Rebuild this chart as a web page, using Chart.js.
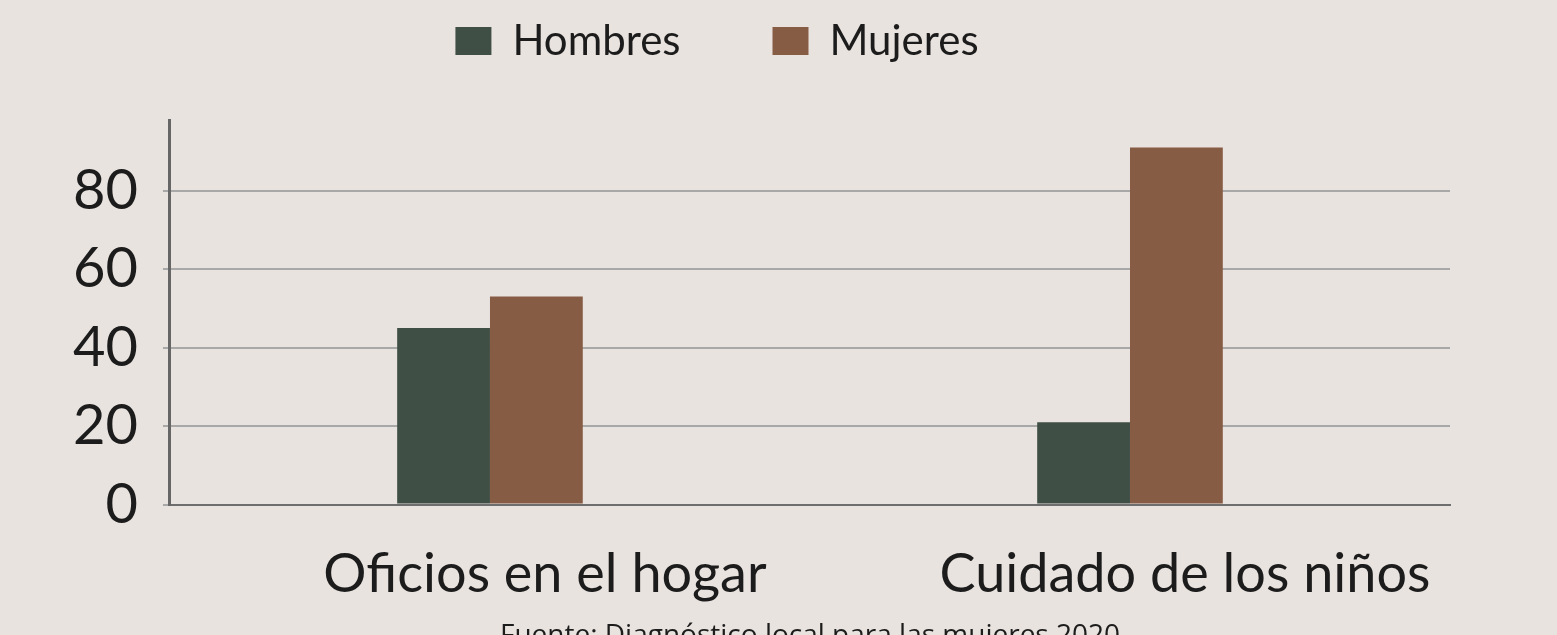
<!DOCTYPE html>
<html lang="es">
<head>
<meta charset="utf-8">
<script src="https://cdn.jsdelivr.net/npm/chart.js@4/dist/chart.umd.min.js"></script>
<style>
  html, body { margin: 0; padding: 0; overflow: hidden; background: #e9e3df; }
</style>
</head>
<body>
<canvas id="grafico" width="1557" height="653"></canvas>
<script>
// Datos
const categorias = ['Oficios en el hogar', 'Cuidado de los niños'];
const hombres = [45, 21];
const mujeres = [53, 91];
const ticksY = [0, 20, 40, 60, 80];
const fuente = 'Fuente: Diagnóstico local para las mujeres 2020';

// Desplaza la leyenda arriba y a la izquierda, como en el original
const moverLeyenda = {
  id: 'moverLeyenda',
  afterLayout(chart) {
    const lg = chart.legend;
    if (lg) {
      lg.left -= 32; lg.right -= 32;
      lg.top -= 48; lg.bottom -= 48;
    }
  }
};

const config = {
  type: 'bar',
  data: {
    labels: categorias,
    datasets: [
      { label: 'Hombres', data: hombres, backgroundColor: '#404f45' },
      { label: 'Mujeres', data: mujeres, backgroundColor: '#875c44' }
    ]
  },
  options: {
    responsive: false,
    animation: false,
    layout: { padding: { left: 48, right: 107, top: -24, bottom: 0 } },
    datasets: { bar: { categoryPercentage: 0.29, barPercentage: 1 } },
    scales: {
      x: {
        grid: { display: false },
        border: { color: '#6e6e6e', width: 2 },
        ticks: {
          color: '#1c1c1c',
          font: { family: 'Lato', size: 54 },
          padding: 30,
          labelOffset: 55,
          maxRotation: 0
        }
      },
      y: {
        min: 0,
        max: 98,
        border: { color: '#666', width: 3 },
        grid: { color: '#a8a8a8', lineWidth: 2, tickLength: 7 },
        ticks: {
          stepSize: 20,
          color: '#1c1c1c',
          font: { family: 'Lato', size: 56 },
          padding: 25,
          callback: (v) => ticksY.includes(v) ? v : null
        }
      }
    },
    plugins: {
      legend: {
        position: 'top',
        labels: {
          color: '#1c1c1c',
          font: { family: 'Lato', size: 42 },
          boxWidth: 36,
          boxHeight: 28,
          padding: 92
        }
      },
      subtitle: {
        display: true,
        text: fuente,
        position: 'bottom',
        fullSize: false,
        color: '#1c1c1c',
        font: { family: 'Open Sans', size: 28 },
        padding: { top: -18, bottom: 0 }
      },
      tooltip: { enabled: false }
    }
  },
  plugins: [moverLeyenda]
};

new Chart(document.getElementById('grafico'), config);
</script>
</body>
</html>
